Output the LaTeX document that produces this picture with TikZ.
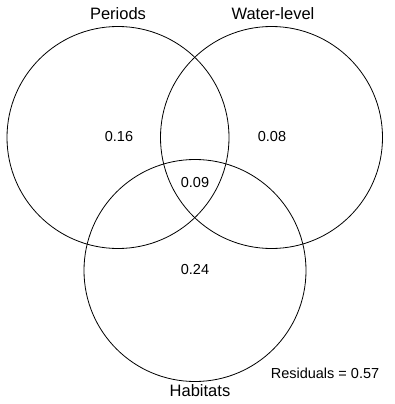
\documentclass[tikz,border=0pt]{standalone}
\usepackage{fontspec}
\setmainfont{Liberation Sans}
\usepackage{tikz}

\begin{document}
\begin{tikzpicture}[x=1pt, y=-1pt, line width=0.8pt,
	every node/.style={font=\fontsize{14.5}{16}\selectfont},
	setlabel/.style={font=\fontsize{16.5}{18}\selectfont}]
	\useasboundingbox (0,0) rectangle (394,404);
	
	% 三个集合
	\draw (118,137.5) circle (111pt);
	\draw (271.5,137.5) circle (111pt);
	\draw (195,270.5) circle (111pt);
	
	% 集合名称
	\node[setlabel] (periods) at (118,13.5) {Periods};
	\node[setlabel] (water) at (273,13.5) {Water-level};
	\node[setlabel] (habitats) at (200,391) {Habitats};
	
	% 各区域数值
	\node (vp) at (119,137) {0.16};
	\node (vw) at (272,137) {0.08};
	\node (vpwh) at (195,183) {0.09};
	\node (vh) at (195,270) {0.24};
	\node (resid) at (325,373.5) {Residuals = 0.57};
\end{tikzpicture}
\end{document}
